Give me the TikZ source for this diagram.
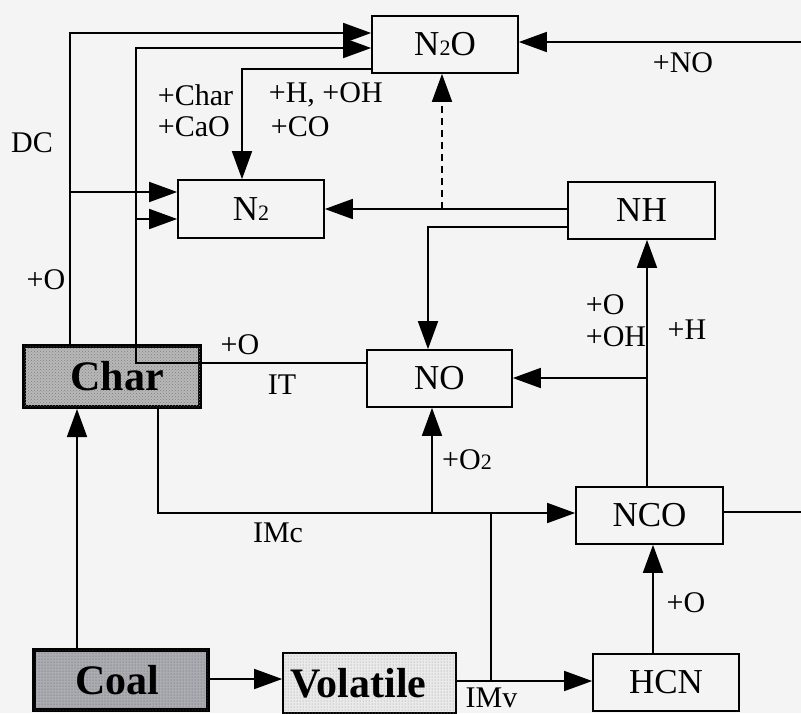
\documentclass[tikz,border=0pt]{standalone}
\usepackage{fontspec}
\setmainfont{Liberation Serif}
\usetikzlibrary{arrows.meta,patterns}
\definecolor{bg}{HTML}{F4F4F4}
\definecolor{charfill}{HTML}{B8B8B8}
\definecolor{coalfill}{HTML}{ABABB2}
\definecolor{volfill}{HTML}{EAEAEA}
\newcommand{\subtwo}{{\fontsize{22}{22}\selectfont 2}}
\begin{document}
\begin{tikzpicture}[x=1pt,y=-1pt,
  line width=1.7pt,
  arr/.style={-{Triangle[length=28pt,width=20pt]}},
  box/.style={draw, line width=1.7pt, fill=bg, minimum width=146pt, minimum height=57pt, inner sep=0pt, font=\fontsize{35}{40}\selectfont},
  bigbox/.style={draw, inner sep=0pt, font=\fontsize{42}{46}\selectfont\bfseries},
  lbl/.style={inner sep=0pt, font=\fontsize{30}{34}\selectfont}
]
\useasboundingbox (0,0) rectangle (801,713);
\fill[bg] (0,0) rectangle (801,713);

% boxes
\node[box] (N2O) at (445,44.5) {N\subtwo O};
\node[box, minimum height=58pt] (N2) at (251,209) {N\subtwo};
\node[box, minimum width=147pt] (NH) at (641.5,210.5) {NH};
\node[box, minimum width=145pt] (NO) at (439.5,378.5) {NO};
\node[box, minimum width=147pt] (NCO) at (649.5,515.5) {NCO};
\node[box] (HCN) at (666,682.5) {HCN};
\node[bigbox, line width=4pt, fill=charfill, postaction={pattern=crosshatch dots, pattern color=black!50},
  minimum width=176pt, minimum height=61pt] (Char) at (112,376.5) {\hspace*{10pt}Char};
\node[bigbox, line width=4.5pt, fill=coalfill, postaction={pattern=dots, pattern color=black!65},
  minimum width=174pt, minimum height=60pt] (Coal) at (121,680) {Coal\hspace*{8pt}};
\node[bigbox, line width=1.7pt, fill=volfill, postaction={pattern=dots, pattern color=black!45},
  minimum width=173pt, minimum height=60pt] (Vol) at (369.5,683) {Volatile\hspace*{22pt}};

% routing coordinates
\coordinate (p1) at (70,33);
\coordinate (p2) at (70,192);
\coordinate (p3) at (136,48);
\coordinate (p4) at (136,363);
\coordinate (p5) at (136,219);
\coordinate (p6) at (242,69);
\coordinate (pr1) at (801,42);
\coordinate (p7) at (442,209);
\coordinate (p8) at (428,227);
\coordinate (p9) at (647,378);
\coordinate (p10) at (647,0);
\coordinate (p11) at (77,0);
\coordinate (p12) at (158,513);
\coordinate (p13) at (432,513);
\coordinate (p14) at (491,681);
\coordinate (p15) at (491,513);
\coordinate (p16) at (653,0);
\coordinate (pr2) at (801,512);
\coordinate (p17) at (0,679);

% connectors
\draw[arr] (Char.north -| p1) -- (p1) -- (N2O.west |- p1);
\draw[arr] (p2) -- (N2.west |- p2);
\draw[arr] (NO.west |- p4) -- (p4) -- (p3) -- (N2O.west |- p3);
\draw[arr] (p5) -- (N2.west |- p5);
\draw[arr] (N2O.west |- p6) -- (p6) -- (N2.north -| p6);
\draw[arr] (pr1) -- (N2O.east |- pr1);
\draw[arr] (NH.west |- p7) -- (N2.east |- p7);
\draw[arr, dashed, dash pattern=on 7pt off 5pt] (p7) -- (N2O.south -| p7);
\draw[arr] (NH.west |- p8) -- (p8) -- (NO.north -| p8);
\draw[arr] (NCO.north -| p10) -- (NH.south -| p10);
\draw[arr] (p9) -- (NO.east |- p9);
\draw[arr] (Coal.north -| p11) -- (Char.south -| p11);
\draw[arr] (Char.south -| p12) -- (p12) -- (NCO.west |- p12);
\draw[arr] (p13) -- (NO.south -| p13);
\draw[arr] (Coal.east |- p17) -- (Vol.west |- p17);
\draw[arr] (Vol.east |- p14) -- (HCN.west |- p14);
\draw (p14) -- (p15);
\draw[arr] (HCN.north -| p16) -- (NCO.south -| p16);
\draw (NCO.east |- pr2) -- (pr2);

% labels
\node[lbl] (lDC) at (32,143) {DC};
\node[lbl] (lO1) at (46,280) {+O};
\node[lbl, anchor=west] (lChar) at (157,95) {+Char};
\node[lbl, anchor=west] (lCaO) at (157,127) {+CaO};
\node[lbl, anchor=west] (lHOH) at (268,95) {+H, +OH};
\node[lbl, anchor=west] (lCO) at (270,127) {+CO};
\node[lbl] (lNO) at (683,63) {+NO};
\node[lbl] (lO2) at (240,345) {+O};
\node[lbl] (lIT) at (282,385) {IT};
\node[lbl, anchor=west] (lO3) at (585,305) {+O};
\node[lbl, anchor=west] (lOH) at (585,337) {+OH};
\node[lbl] (lH) at (687,330) {+H};
\node[lbl] (lO4) at (467,460) {+O\subtwo};
\node[lbl] (lIMc) at (278,533) {IMc};
\node[lbl] (lIMv) at (491.5,698) {IMv};
\node[lbl] (lO5) at (686,603) {+O};
\end{tikzpicture}
\end{document}
